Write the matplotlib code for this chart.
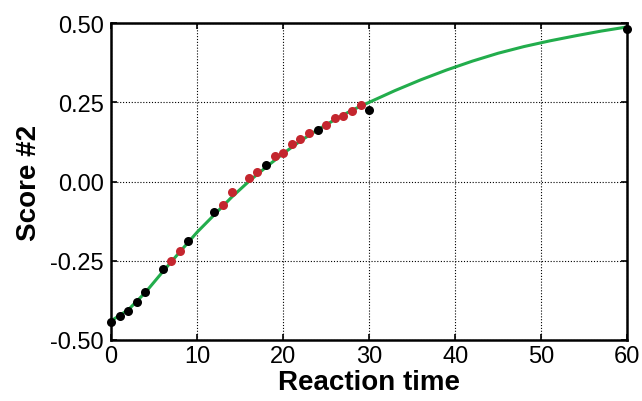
import matplotlib
matplotlib.use("Agg")
import matplotlib.pyplot as plt

plt.rcParams['font.family'] = ['Liberation Sans', 'DejaVu Sans']

# Fitted curve
curve_x = [0, 2, 4, 6, 8, 10, 12, 14, 16, 18, 20, 22, 24, 26, 28, 30,
           33, 36, 39, 42, 45, 48, 51, 54, 57, 60]
curve_y = [-0.440, -0.405, -0.350, -0.285, -0.222, -0.160, -0.105, -0.050,
           0.000, 0.045, 0.088, 0.128, 0.163, 0.195, 0.225, 0.250,
           0.287, 0.321, 0.352, 0.380, 0.405, 0.426, 0.444, 0.460, 0.475,
           0.488]

# Red points
red_x = [7, 8, 13, 14, 16, 17, 19, 20, 21, 22, 23, 25, 26, 27, 28, 29]
red_y = [-0.250, -0.218, -0.073, -0.034, 0.010, 0.031, 0.081, 0.090,
         0.118, 0.134, 0.153, 0.178, 0.200, 0.206, 0.223, 0.242]

# Black points
black_x = [0, 1, 2, 3, 4, 6, 9, 12, 18, 24, 30, 60]
black_y = [-0.444, -0.423, -0.408, -0.379, -0.350, -0.276, -0.187, -0.097,
           0.052, 0.162, 0.226, 0.483]

x_ticks = [0, 10, 20, 30, 40, 50, 60]
y_ticks = [-0.50, -0.25, 0.00, 0.25, 0.50]
y_tick_labels = ['-0.50', '-0.25', '0.00', '0.25', '0.50']

fig = plt.figure(figsize=(6.42, 4.02), dpi=100)
ax = fig.add_axes([0.173, 0.152, 0.804, 0.788])

ax.plot(curve_x, curve_y, color='#22ad4c', lw=2.2, zorder=2,
        solid_joinstyle='round')
ax.plot(red_x, red_y, 'o', color='#c4262e', ms=6.5, mec='none', zorder=3)
ax.plot(black_x, black_y, 'o', color='black', ms=6.5, mec='none', zorder=4,
        clip_on=False)

ax.set_xlim(0, 60)
ax.set_ylim(-0.5, 0.5)
ax.set_xticks(x_ticks)
ax.set_yticks(y_ticks)
ax.set_yticklabels(y_tick_labels)
ax.grid(True, color='black', linestyle=(0, (1, 1.6)), lw=0.8)

for s in ax.spines.values():
    s.set_linewidth(1.8)

ax.tick_params(axis='both', labelsize=17, width=1.2, length=4,
               direction='in', top=True, right=True)
ax.tick_params(axis='x', pad=4)
ax.tick_params(axis='y', pad=5)

ax.set_xlabel('Reaction time', fontsize=20, fontweight='bold', labelpad=1)
ax.set_ylabel('Score #2', fontsize=20, fontweight='bold', labelpad=6)

fig.savefig('out.png', dpi=100)
